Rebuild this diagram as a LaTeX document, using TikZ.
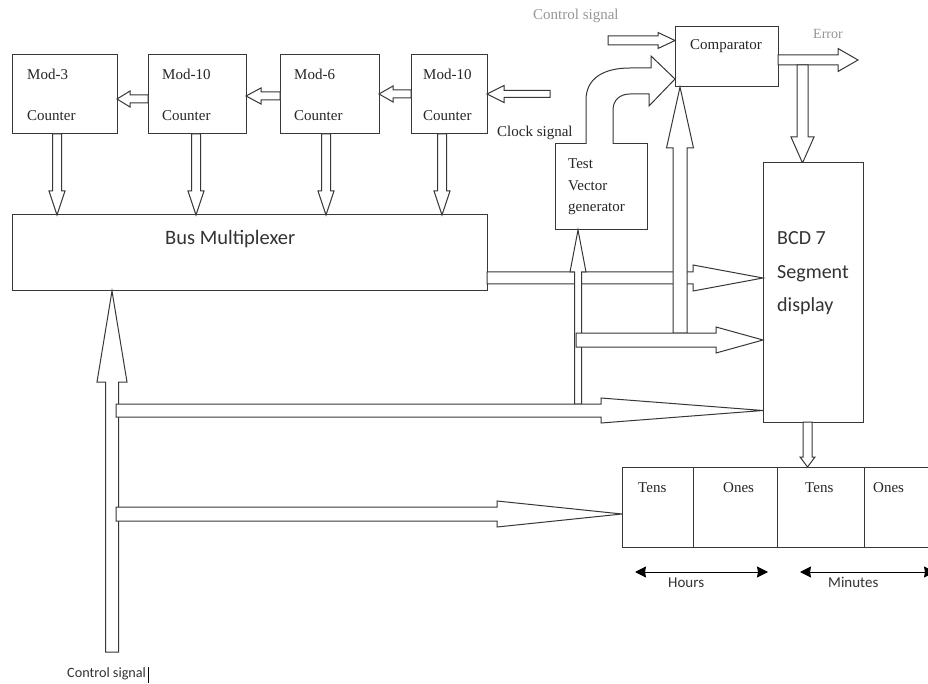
\documentclass[tikz,border=0pt]{standalone}
\usepackage{fontspec}
\setmainfont{Liberation Serif}
\newfontfamily\calib{Carlito}
\usetikzlibrary{arrows.meta}
\definecolor{linec}{RGB}{55,55,55}
\definecolor{graytxt}{RGB}{150,150,150}
\tikzset{
  box/.style={draw=linec, line width=1pt, fill=white, inner sep=0pt, rectangle},
  barrow/.style={draw=linec, line width=1pt, fill=white, line join=miter},
  txt/.style={anchor=base west, inner sep=0pt, text=black!85, font=\fontsize{15}{15}\selectfont},
  sans/.style={anchor=base west, inner sep=0pt, text=black!80, font=\calib\fontsize{15}{15}\selectfont},
  dim/.style={line width=1pt, draw=black, {Stealth[length=11pt,width=11pt,inset=1pt]}-{Stealth[length=11pt,width=11pt,inset=1pt]}}
}
% horizontal block arrow: tail x, tip x, y, shaft half, head half, head length (signed)
\newcommand\harr[6]{\draw[barrow] (#1,#3-#4) -- ({#2-(#6)},#3-#4) -- ({#2-(#6)},#3-#5) -- (#2,#3) -- ({#2-(#6)},#3+#5) -- ({#2-(#6)},#3+#4) -- (#1,#3+#4) -- cycle;}
% vertical block arrow: tail y, tip y, x, shaft half, head half, head length (signed)
\newcommand\varr[6]{\draw[barrow] (#3-#4,#1) -- (#3-#4,{#2-(#6)}) -- (#3-#5,{#2-(#6)}) -- (#3,#2) -- (#3+#5,{#2-(#6)}) -- (#3+#4,{#2-(#6)}) -- (#3+#4,#1) -- cycle;}
\begin{document}
\begin{tikzpicture}[x=1pt,y=-1pt]
\useasboundingbox (0,0) rectangle (928,684);
\fill[white] (0,0) rectangle (928,684);
\clip (0,0) rectangle (928,684);

% counters
\node[box, minimum width=105pt, minimum height=79pt] (m3) at (64.5,94.5) {};
\node[box, minimum width=98pt, minimum height=79pt] (m10a) at (197,94.5) {};
\node[box, minimum width=99pt, minimum height=79pt] (m6) at (329.5,94.5) {};
\node[box, minimum width=76pt, minimum height=79pt] (m10b) at (449,94.5) {};
\node[txt] (t1) at (27,80) {Mod-3};
\node[txt] (t2) at (27,121) {Counter};
\node[txt] (t3) at (162,80) {Mod-10};
\node[txt] (t4) at (162,121) {Counter};
\node[txt] (t5) at (294,80) {Mod-6};
\node[txt] (t6) at (294,121) {Counter};
\node[txt] (t7) at (423,80) {Mod-10};
\node[txt] (t8) at (423,121) {Counter};

% chain arrows
\harr{148}{117}{99}{4}{8}{-13}
\harr{280}{246}{96}{4}{8}{-15}
\harr{411}{379}{94}{4}{8}{-14}
\harr{550}{487}{94}{3.5}{8.5}{-17}
\node[txt] (clk) at (497,137) {Clock signal};

% bus multiplexer
\node[box, minimum width=475pt, minimum height=76pt] (bus) at (249.5,253) {};
\node[sans, font=\calib\fontsize{20.5}{20.5}\selectfont] (bust) at (165,245) {Bus Multiplexer};
\varr{134}{215}{57}{4.5}{8}{24}
\varr{134}{215}{196}{4.5}{8}{24}
\varr{134}{215}{326}{4.5}{8}{24}
\varr{134}{215}{442}{4.5}{8}{24}

% test vector generator
\node[box, minimum width=92pt, minimum height=86pt] (tvg) at (601,187) {};
\node[txt] (tv1) at (568,169) {Test};
\node[txt] (tv2) at (568,191) {Vector};
\node[txt] (tv3) at (568,212) {generator};

% comparator
\node[box, minimum width=103pt, minimum height=60pt] (comp) at (726.5,57) {};
\node[txt] (compt) at (690,50) {Comparator};
\node[txt, text=graytxt] (ctop) at (533,20) {Control signal};
\harr{608}{675}{40.5}{4.5}{8}{17}
\draw[barrow] (586,144) -- (586,100) .. controls (586,78) and (604,68) .. (630,68) -- (651,68) -- (651,56) -- (675,79) -- (649,106) -- (649,94) -- (630,94) .. controls (620,94) and (613,100) .. (613,110) -- (613,144);
\harr{778}{858}{60}{5}{11.5}{20}
\node[txt, text=graytxt, font=\fontsize{14}{14}\selectfont] (err) at (813,39) {Error};
\varr{65}{163}{802.5}{5.5}{11.5}{26}

% BCD display
\node[box, minimum width=100pt, minimum height=259pt] (bcd) at (813,292.5) {};
\node[sans, font=\calib\fontsize{20}{20}\selectfont] (b1) at (777,245) {BCD 7};
\node[sans, font=\calib\fontsize{20}{20}\selectfont] (b2) at (777,279) {Segment};
\node[sans, font=\calib\fontsize{20}{20}\selectfont] (b3) at (777,312) {display};

% middle arrows
\harr{487}{763}{278}{6}{13}{70}
\varr{404}{230}{578}{3.5}{8}{-42}
\varr{333}{87}{680}{7}{13.5}{-61}
\harr{576}{763}{340}{7}{13}{47}
\varr{652}{291}{112}{6.5}{15}{-91}
\harr{116}{763}{410.5}{6.5}{12.5}{162}
\harr{116}{622}{514}{7}{13}{125}
\node[sans, font=\calib\fontsize{14.2}{14.2}\selectfont] (cbot) at (67,677) {Control signal};
\draw[line width=1.6pt, black] (148.5,667) -- (148.5,683);

% time display
\varr{422}{467}{807.5}{4.5}{7.5}{10}
\node[box, minimum width=71pt, minimum height=80pt] (c1) at (657.5,507) {};
\node[box, minimum width=84pt, minimum height=80pt] (c2) at (735,507) {};
\node[box, minimum width=87pt, minimum height=80pt] (c3) at (820.5,507) {};
\node[box, minimum width=71pt, minimum height=80pt] (c4) at (899.5,507) {};
\node[txt] (d1) at (638,492) {Tens};
\node[txt] (d2) at (723,492) {Ones};
\node[txt] (d3) at (805,492) {Tens};
\node[txt] (d4) at (873,492) {Ones};
\coordinate (h1) at (635,572);
\coordinate (h2) at (768,572);
\coordinate (n1) at (800,572);
\coordinate (n2) at (935,572);
\draw[dim] (h1) -- (h2);
\draw[dim] (n1) -- (n2);
\node[sans] (hrs) at (668,587) {Hours};
\node[sans] (mins) at (828,587) {Minutes};
\end{tikzpicture}
\end{document}
